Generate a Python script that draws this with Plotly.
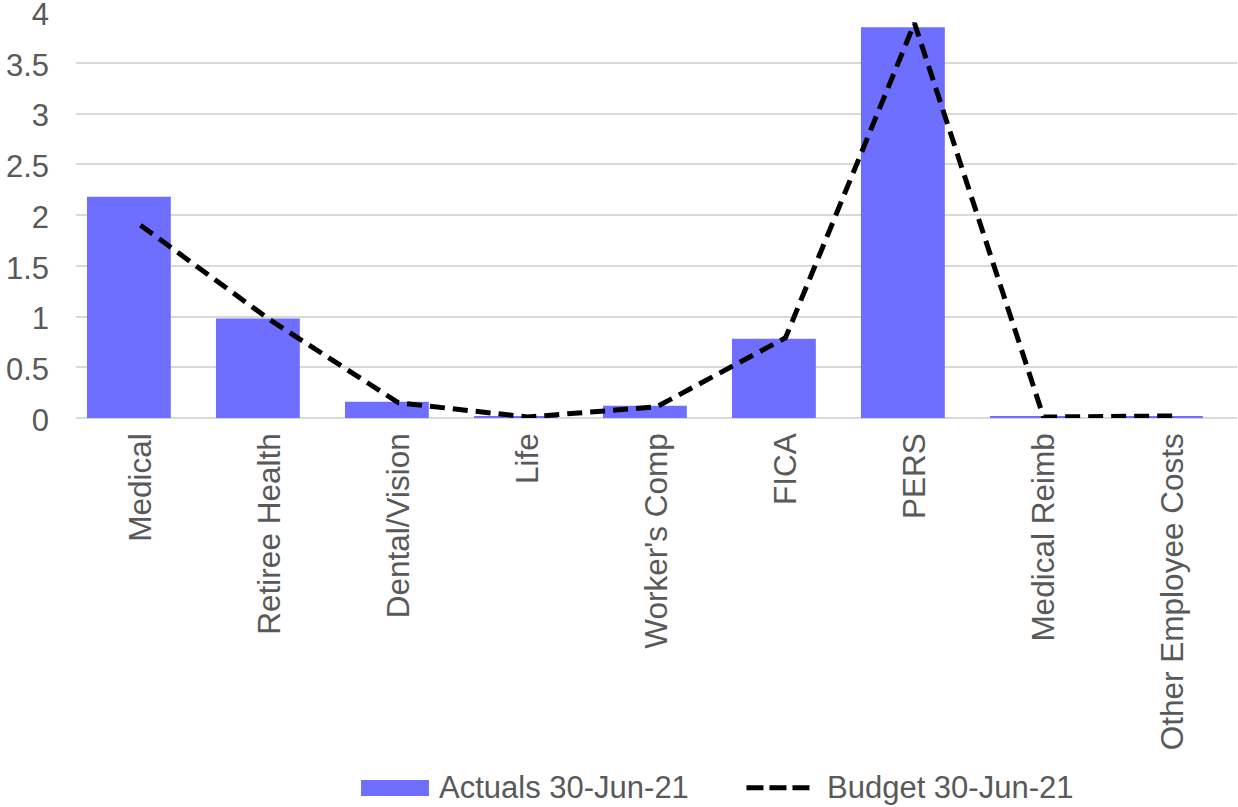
import plotly.graph_objects as go

categories = ["Medical", "Retiree Health", "Dental/Vision", "Life", "Worker's Comp",
              "FICA", "PERS", "Medical Reimb", "Other Employee Costs"]
actuals = [2.18, 0.98, 0.16, 0.02, 0.12, 0.78, 3.85, 0.02, 0.02]
budget = [1.90, 0.97, 0.15, 0.01, 0.11, 0.79, 3.89, 0.01, 0.02]
y_ticks = [0, 0.5, 1, 1.5, 2, 2.5, 3, 3.5, 4]
y_tick_text = ["0", "0.5", "1", "1.5", "2", "2.5", "3", "3.5", "4"]
series_names = ["Actuals 30-Jun-21", "Budget 30-Jun-21"]

FONT = "Liberation Sans, Arial, sans-serif"
TEXT = "#595959"
GRID = "#d9d9d9"
BAR = "#6f6fff"

fig = go.Figure()
fig.add_trace(go.Bar(
    x=categories, y=actuals, name=series_names[0],
    marker=dict(color=BAR, line=dict(width=0)),
    width=0.65, offset=-0.415, showlegend=False,
))
fig.add_trace(go.Scatter(
    x=categories, y=budget, name=series_names[1], mode="lines",
    line=dict(color="#000000", width=5, dash="15px,8px"), showlegend=False,
))

# Legend drawn below the category labels
fig.add_shape(type="rect", xref="paper", yref="paper",
              x0=0.2455, x1=0.3040, y0=-0.931, y1=-0.8916,
              fillcolor=BAR, line=dict(width=0))
fig.add_annotation(xref="paper", yref="paper", x=0.3109, y=-0.911,
                   xanchor="left", yanchor="middle", showarrow=False,
                   text=series_names[0], font=dict(size=31, color=TEXT))
fig.add_shape(type="line", xref="paper", yref="paper",
              x0=0.5775, x1=0.6340, y0=-0.911, y1=-0.911,
              line=dict(color="#000000", width=5, dash="17px,6px"))
fig.add_annotation(xref="paper", yref="paper", x=0.6451, y=-0.911,
                   xanchor="left", yanchor="middle", showarrow=False,
                   text=series_names[1], font=dict(size=31, color=TEXT))

fig.update_layout(
    width=1238, height=807,
    margin=dict(l=76, r=1, t=12, b=389, autoexpand=False),
    paper_bgcolor="white", plot_bgcolor="white",
    font=dict(family=FONT, size=31, color=TEXT),
    showlegend=False,
    xaxis=dict(type="category", tickangle=-90, showgrid=False, showline=False,
               ticks="", tickfont=dict(size=31.5, color=TEXT), ticklabelstandoff=8,
               automargin=False),
    yaxis=dict(range=[0, 4], tickvals=y_ticks, ticktext=y_tick_text,
               showgrid=True, gridcolor=GRID, gridwidth=2,
               zeroline=True, zerolinecolor=GRID, zerolinewidth=2,
               showline=False, ticks="", tickfont=dict(size=31, color=TEXT),
               ticklabelstandoff=26, ticklabelshift=2,
               ticklabeloverflow="allow", automargin=False),
    bargap=0.35,
)

fig.write_html("out.html")
